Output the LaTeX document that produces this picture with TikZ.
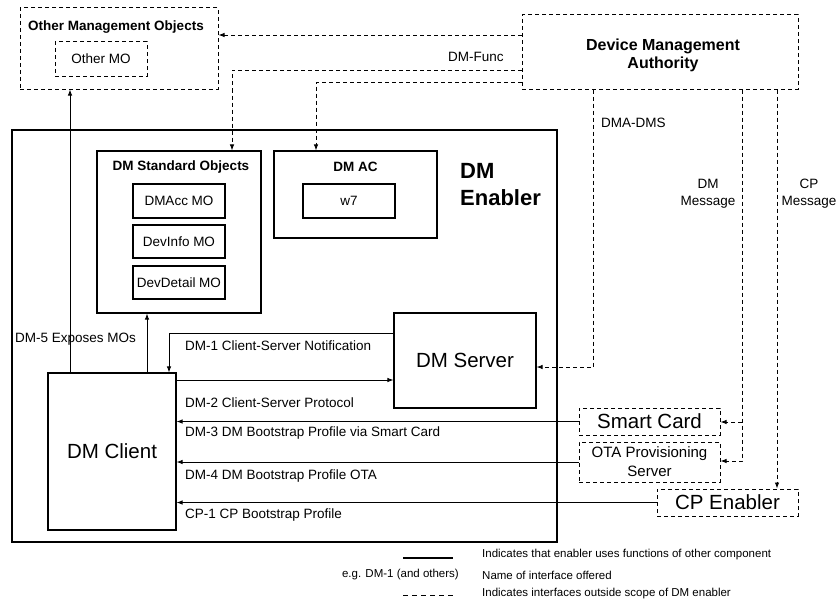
\documentclass[tikz,border=0pt]{standalone}
\usepackage{fontspec}
\setmainfont{Liberation Sans}
\usetikzlibrary{arrows.meta,calc}
\begin{document}
\begin{tikzpicture}[x=1pt,y=-1pt,
  font=\fontsize{13.5}{16}\selectfont,
  box/.style={draw,line width=1.1pt,inner sep=0pt},
  dbox/.style={draw,line width=1pt,dash pattern=on 4pt off 3pt,inner sep=0pt},
  conn/.style={line width=0.9pt},
  dconn/.style={line width=0.9pt,dash pattern=on 4pt off 3pt},
  tip/.style={-{Latex[length=6pt,width=4.5pt]}},
  lbl/.style={inner sep=0pt,anchor=west},
  ttl/.style={inner sep=0pt,font=\fontsize{13.5}{16}\selectfont\bfseries},
  big/.style={font=\fontsize{20.5}{24}\selectfont},
]
\useasboundingbox (0,0) rectangle (840,602);

% Other Management Objects
\node[dbox,minimum width=198pt,minimum height=81pt] (omo) at (119,48.5) {};
\node[ttl] (omot) at (116,27) {Other Management Objects};
\node[dbox,minimum width=92pt,minimum height=34pt] (othermo) at (101,59) {Other MO};

% Device Management Authority
\node[dbox,minimum width=276pt,minimum height=74pt] (dma) at (660,52) {};
\node[inner sep=0pt,align=center,font=\fontsize{16}{18}\selectfont\bfseries] (dmat) at (663,55) {Device Management\\Authority};

% DM Enabler
\node[draw,line width=2.2pt,minimum width=545pt,minimum height=412pt,inner sep=0pt] (enabler) at (284.5,336) {};
\node[anchor=north west,inner sep=0pt,align=left,font=\fontsize{22}{27}\selectfont\bfseries] (enl) at (460,163) {DM\\Enabler};

% DM Standard Objects
\node[box,minimum width=164pt,minimum height=162pt] (dmso) at (179,232) {};
\node[ttl] (dmsot) at (181,167) {DM Standard Objects};
\node[box,minimum width=92pt,minimum height=34pt] (dmacc) at (179,201) {DMAcc MO};
\node[box,minimum width=92pt,minimum height=33pt] (devinfo) at (179,241.5) {DevInfo MO};
\node[box,minimum width=92pt,minimum height=33pt] (devdetail) at (179,282.5) {DevDetail MO};

% DM AC
\node[box,minimum width=163pt,minimum height=87pt] (dmac) at (355.5,194.5) {};
\node[ttl] (dmact) at (355.5,167) {DM AC};
\node[box,minimum width=92pt,minimum height=34pt] (w7) at (349,201) {w7};

% DM Server and Client
\node[box,big,minimum width=142pt,minimum height=95pt] (server) at (465,360.5) {DM Server};
\node[box,big,minimum width=128pt,minimum height=157pt] (client) at (112,451.5) {DM Client};

% External boxes
\node[dbox,big,minimum width=141pt,minimum height=27pt] (smart) at (649.5,421.5) {Smart Card};
\node[dbox,minimum width=141pt,minimum height=40pt,align=center,
      font=\fontsize{15}{19}\selectfont] (ota) at (649.5,462) {OTA Provisioning\\Server};
\node[dbox,big,minimum width=141pt,minimum height=27pt] (cp) at (727.5,502.5) {CP Enabler};

% DMA connectors
\draw[dconn,tip] (dma.west |- 0,35) -- (omo.east |- 0,35);
\draw[dconn,tip] (dma.west |- 0,70) -| (232,0 |- dmso.north);
\draw[dconn,tip] (dma.west |- 0,82) -| (316,0 |- dmac.north);
\node[lbl] (dmfunc) at (448,57) {DM-Func};

\draw[dconn,tip] (593,0 |- dma.south) |- (server.east |- 0,367);
\node[lbl] (dmadms) at (601,123) {DMA-DMS};

\coordinate (dmmsplit) at (742,422);
\draw[dconn,tip] (742,0 |- dma.south) |- (ota.east |- 0,461);
\draw[dconn,tip] (dmmsplit) -- (smart.east |- dmmsplit);
\node[inner sep=0pt,align=center,font=\fontsize{13.5}{17}\selectfont] (dmmsg) at (708,194) {DM\\Message};

\draw[dconn,tip] (777,0 |- dma.south) -- (777,0 |- cp.north);
\node[inner sep=0pt,align=center,font=\fontsize{13.5}{17}\selectfont] (cpmsg) at (809,194) {CP\\Message};

% Enabler internal connectors
\draw[conn,tip] (70,0 |- client.north) -- (70,0 |- omo.south);
\draw[conn,tip] (147,0 |- client.north) -- (147,0 |- dmso.south);
\node[lbl] (dm5) at (15,339) {DM-5 Exposes MOs};

\draw[conn,tip] (server.west |- 0,333) -| (169,0 |- client.north);
\node[lbl] (dm1) at (185,346) {DM-1 Client-Server Notification};

\draw[conn,tip] (client.east |- 0,380) -- (server.west |- 0,380);
\node[lbl] (dm2) at (185,403) {DM-2 Client-Server Protocol};

\draw[conn,tip] (smart.west) -- (client.east |- smart.west);
\node[lbl] (dm3) at (185,433) {DM-3 DM Bootstrap Profile via Smart Card};

\draw[conn,tip] (ota.west) -- (client.east |- ota.west);
\node[lbl] (dm4) at (185,476) {DM-4 DM Bootstrap Profile OTA};

\draw[conn,tip] (cp.west) -- (client.east |- cp.west);
\node[lbl] (cp1) at (185,515) {CP-1 CP Bootstrap Profile};

% Legend
\begin{scope}[font=\fontsize{11.5}{14}\selectfont]
\coordinate (l1a) at (403,558);
\coordinate (l1b) at (453,558);
\draw[line width=2.2pt] (l1a) -- (l1b);
\node[lbl] (leg1) at (482,555) {Indicates that enabler uses functions of other component};
\node[inner sep=0pt,anchor=east] (leg2a) at (459,575) {e.g. DM-1 (and others)};
\node[lbl] (leg2) at (482,575) {Name of interface offered};
\coordinate (l3a) at (403,595);
\coordinate (l3b) at (453,595);
\draw[line width=0.9pt,dash pattern=on 5pt off 4pt] (l3a) -- (l3b);
\node[lbl] (leg3) at (482,594) {Indicates interfaces outside scope of DM enabler};
\end{scope}
\end{tikzpicture}
\end{document}
